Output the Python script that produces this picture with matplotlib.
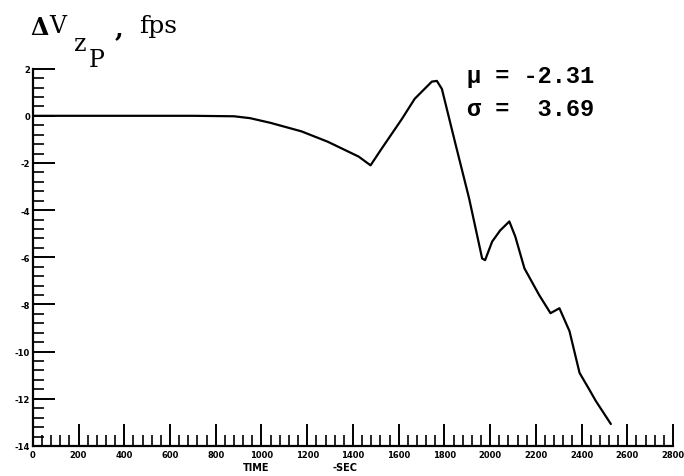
import numpy as np
import matplotlib
matplotlib.use("Agg")
import matplotlib.pyplot as plt
from matplotlib.ticker import MultipleLocator

# curve (time in sec, delta V in fps)
t = [0, 300, 700, 880, 950, 1040, 1175, 1290, 1380, 1425, 1477, 1525, 1613,
     1670, 1745, 1767, 1789, 1846, 1908, 1965, 1978, 2009, 2044, 2084, 2110,
     2150, 2215, 2264, 2303, 2347, 2391, 2435, 2462, 2528]
dv = [0.0, 0.0, 0.0, -0.02, -0.1, -0.3, -0.66, -1.1, -1.52, -1.73, -2.1, -1.4,
      -0.15, 0.72, 1.45, 1.48, 1.14, -1.1, -3.5, -6.05, -6.12, -5.33, -4.86,
      -4.48, -5.12, -6.47, -7.61, -8.37, -8.16, -9.13, -10.9, -11.63, -12.09,
      -13.07]
xticks = list(range(0, 2801, 200))
yticks = list(range(-14, 3, 2))
mu, sigma = -2.31, 3.69

fig = plt.figure(figsize=(6.84, 4.77), dpi=100)
ax = fig.add_axes([0.048, 0.063, 0.936, 0.791])

ax.plot(t, dv, color="black", lw=1.6, solid_capstyle="round")
ax.set_xlim(0, 2800)
ax.set_ylim(-14, 2)

for s in ["top", "right"]:
    ax.spines[s].set_visible(False)
for s in ["left", "bottom"]:
    ax.spines[s].set_linewidth(1.6)

ax.set_xticks(xticks)
ax.set_yticks(yticks)
ax.xaxis.set_minor_locator(MultipleLocator(40))
ax.yaxis.set_minor_locator(MultipleLocator(0.4))
ax.tick_params(which="major", direction="in", length=16, width=1.4, pad=3,
               labelsize=6)
ax.tick_params(which="minor", direction="in", length=8, width=1.2)
ax.set_xticklabels([str(v) for v in xticks], fontweight="bold")
ax.set_yticklabels([str(v) for v in yticks], fontweight="bold")
ax.tick_params(axis="y", pad=2)

fig.text(0.374, 0.012, "TIME", fontsize=7, fontweight="bold", ha="center")
fig.text(0.504, 0.012, "-SEC", fontsize=7, fontweight="bold", ha="center")

# y-axis title: delta V with subscript z, sub-subscript P
fig.text(0.045, 0.942, "\u0394", fontsize=17, family="DejaVu Serif",
         fontweight="bold", va="center")
fig.text(0.072, 0.944, "V", fontsize=17, family="DejaVu Serif", va="center")
fig.text(0.108, 0.907, "z", fontsize=17, family="DejaVu Serif", va="center")
fig.text(0.130, 0.874, "P", fontsize=17, family="DejaVu Serif", va="center")
fig.text(0.168, 0.938, ",", fontsize=18, family="DejaVu Serif",
         fontweight="bold", va="center")
fig.text(0.203, 0.944, "fps", fontsize=18, family="DejaVu Serif", va="center")

fig.text(0.683, 0.827, "\u03bc = %.2f" % mu, fontsize=17, family="Liberation Mono",
         fontweight="bold")
fig.text(0.683, 0.757, "\u03c3 =  %.2f" % sigma, fontsize=17,
         family="Liberation Mono", fontweight="bold")

fig.savefig("out.png", dpi=100)
